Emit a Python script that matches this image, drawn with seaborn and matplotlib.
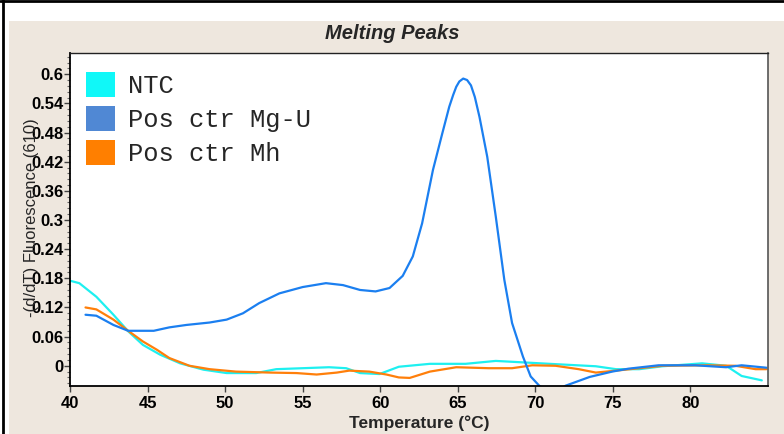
import numpy as np
import pandas as pd
import matplotlib
matplotlib.use('Agg')
import matplotlib.pyplot as plt
from matplotlib.patches import Patch, Rectangle
from matplotlib.lines import Line2D
from matplotlib.ticker import FixedLocator, MultipleLocator
import seaborn as sns

# Data
ntc_temp = [40.0, 40.6, 41.7, 42.8, 43.75, 44.7, 45.8, 47.1, 48.6, 50.1, 52.0, 53.3, 55.0,
            56.7, 57.8, 58.7, 59.95, 61.2, 63.2, 65.5, 67.45, 69.2, 71.5, 73.9, 75.2, 76.7,
            78.2, 80.75, 82.3, 83.3, 84.6]
ntc_val = [0.175, 0.170, 0.142, 0.105, 0.071, 0.043, 0.023, 0.005, -0.008, -0.015, -0.015,
           -0.007, -0.005, -0.003, -0.005, -0.015, -0.017, -0.002, 0.004, 0.004, 0.010, 0.007,
           0.003, -0.001, -0.007, -0.007, -0.001, 0.005, 0.0, -0.021, -0.030]

mgu_temp = [41.0, 41.7, 42.8, 43.75, 45.4, 46.4, 47.5, 49.0, 50.1, 51.15, 52.2, 53.5, 55.0,
            56.5, 57.6, 58.7, 59.7, 60.6, 61.45, 62.1, 62.7, 63.4, 64.0, 64.45, 64.7, 64.9,
            65.1, 65.35, 65.6, 65.85, 66.1, 66.4, 66.9, 67.45, 68.0, 68.5, 69.2, 69.7, 70.25,
            70.8, 71.4, 71.95, 73.5, 74.95, 76.0, 77.95, 80.3, 82.3, 83.3, 84.9]
mgu_val = [0.105, 0.103, 0.084, 0.072, 0.072, 0.079, 0.084, 0.089, 0.095, 0.108, 0.129, 0.149,
           0.162, 0.170, 0.166, 0.156, 0.153, 0.160, 0.185, 0.225, 0.293, 0.403, 0.478, 0.533,
           0.557, 0.574, 0.585, 0.591, 0.588, 0.577, 0.553, 0.512, 0.430, 0.307, 0.177, 0.088,
           0.019, -0.022, -0.041, -0.052, -0.052, -0.041, -0.023, -0.012, -0.006, 0.001, 0.001,
           -0.003, 0.001, -0.004]

mh_temp = [41.0, 41.7, 42.8, 43.75, 44.7, 45.6, 46.4, 47.7, 49.0, 50.7, 52.9, 54.6, 55.9,
           57.2, 58.0, 59.3, 60.4, 61.2, 61.9, 63.2, 64.9, 67.0, 68.5, 69.8, 71.3, 72.8, 73.9,
           75.2, 76.7, 78.2, 81.0, 82.9, 84.2, 84.9]
mh_val = [0.120, 0.116, 0.095, 0.072, 0.050, 0.033, 0.016, 0.000, -0.007, -0.012, -0.014,
          -0.015, -0.018, -0.014, -0.010, -0.012, -0.018, -0.024, -0.025, -0.012, -0.003,
          -0.005, -0.005, 0.001, 0.0, -0.007, -0.014, -0.010, -0.005, 0.0, 0.001, 0.0,
          -0.007, -0.007]

sample_names = ['NTC', 'Pos ctr Mg-U', 'Pos ctr Mh']
y_ticks = [0, 0.06, 0.12, 0.18, 0.24, 0.3, 0.36, 0.42, 0.48, 0.54, 0.6]
y_tick_labels = ['0', '0.06', '0.12', '0.18', '0.24', '0.3', '0.36', '0.42', '0.48', '0.54', '0.6']
x_ticks = [40, 45, 50, 55, 60, 65, 70, 75, 80]

line_colors = {'NTC': '#1EF0F0', 'Pos ctr Mg-U': '#1B7FF0', 'Pos ctr Mh': '#FF7F0A'}
legend_colors = {'NTC': '#10F8F8', 'Pos ctr Mg-U': '#5088D4', 'Pos ctr Mh': '#FF7F00'}

sns.set_style('ticks')
plt.rcParams['font.family'] = ['Liberation Sans', 'DejaVu Sans']

fig = plt.figure(figsize=(7.84, 4.34), dpi=100, facecolor='white')
# beige panel + black frame lines
fig.add_artist(Rectangle((9 / 784, 0), 1, 1 - 21 / 434, transform=fig.transFigure,
                         facecolor='#EEE7DE', edgecolor='none', zorder=0))
fig.add_artist(Line2D([3 / 784, 3 / 784], [0, 1], transform=fig.transFigure, color='black', lw=2))
fig.add_artist(Line2D([0, 1], [1 - 1 / 434, 1 - 1 / 434], transform=fig.transFigure, color='black', lw=2))

ax = fig.add_axes([70 / 784, 1 - 385.7 / 434, 698 / 784, 332.4 / 434])
ax.set_facecolor('white')

# draw order: NTC, Mh, Mg-U
sns.lineplot(x=ntc_temp, y=ntc_val, ax=ax, color=line_colors['NTC'], linewidth=1.6)
sns.lineplot(x=mh_temp, y=mh_val, ax=ax, color=line_colors['Pos ctr Mh'], linewidth=1.6)
sns.lineplot(x=mgu_temp, y=mgu_val, ax=ax, color=line_colors['Pos ctr Mg-U'], linewidth=1.6)

ax.set_xlim(40, 85)
ax.set_ylim(-0.041, 0.643)
ax.xaxis.set_major_locator(FixedLocator(x_ticks))
ax.set_xticklabels([str(t) for t in x_ticks])
ax.yaxis.set_major_locator(FixedLocator(y_ticks))
ax.set_yticklabels(y_tick_labels)
ax.yaxis.set_minor_locator(MultipleLocator(0.012))

ax.tick_params(axis='both', which='major', direction='out', length=4, width=1,
               color='#444444', labelsize=12, labelcolor='black')
ax.tick_params(axis='y', which='major', pad=0.5)
ax.tick_params(axis='x', which='major', pad=3.5)
ax.tick_params(axis='y', which='minor', direction='out', length=2.5, width=0.8, color='#666666')
for lab in ax.get_xticklabels() + ax.get_yticklabels():
    lab.set_fontweight('bold')

for side in ['left', 'bottom']:
    ax.spines[side].set_color('black')
    ax.spines[side].set_linewidth(1.3)
ax.spines['top'].set_color('#222222')
ax.spines['top'].set_linewidth(1.0)
ax.spines['right'].set_color('#555555')
ax.spines['right'].set_linewidth(1.2)
ax.spines['right'].set_visible(True)
ax.spines['top'].set_visible(True)

ax.set_ylabel('-(d/dT) Fluorescence (610)', fontsize=12)
ax.yaxis.set_label_coords(-0.045, 0.505)
ax.set_xlabel('Temperature (°C)', fontsize=12.5, fontweight='bold')
ax.xaxis.set_label_coords(0.5, -0.088)
ax.set_title('Melting Peaks', x=0.461, pad=10, fontsize=14.5, fontweight='bold', style='italic')

handles = [Patch(facecolor=legend_colors[n], edgecolor='none', label=n) for n in sample_names]
ax.legend(handles=handles, loc='upper left', bbox_to_anchor=(16 / 698, 1 - 19 / 332.4),
          frameon=False, borderpad=0, borderaxespad=0, handlelength=1.13, handleheight=1.13,
          handletextpad=0.5, labelspacing=0.3,
          prop={'family': 'Liberation Mono', 'size': 18.4})

fig.savefig('out.png', dpi=100, facecolor='white')
